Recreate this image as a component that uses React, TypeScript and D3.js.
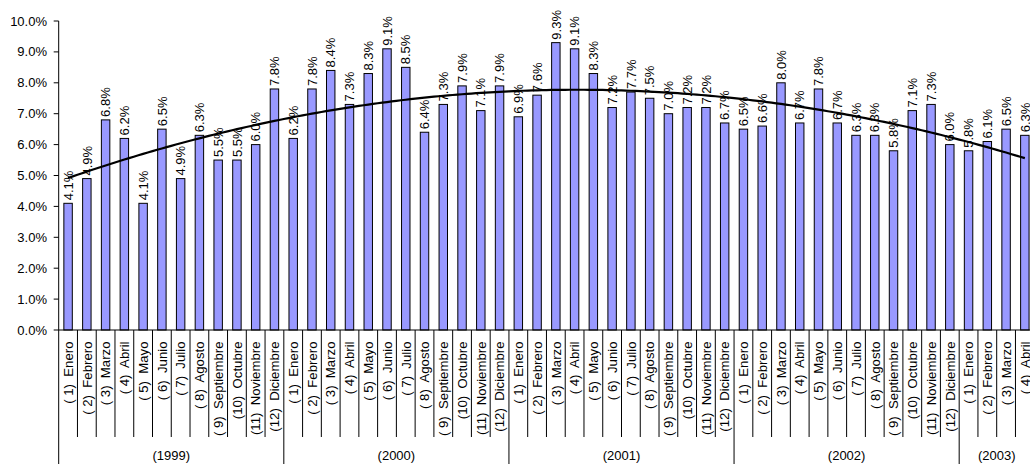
import React from "react";
import * as d3 from "d3";

const months = ["Enero", "Febrero", "Marzo", "Abril", "Mayo", "Junio", "Julio", "Agosto", "Septiembre", "Octubre", "Noviembre", "Diciembre"];
const years = ["1999", "2000", "2001", "2002", "2003"];
const v1999 = [4.1, 4.9, 6.8, 6.2, 4.1, 6.5, 4.9, 6.3, 5.5, 5.5, 6.0, 7.8];
const v2000 = [6.2, 7.8, 8.4, 7.3, 8.3, 9.1, 8.5, 6.4, 7.3, 7.9, 7.1, 7.9];
const v2001 = [6.9, 7.6, 9.3, 9.1, 8.3, 7.2, 7.7, 7.5, 7.0, 7.2, 7.2, 6.7];
const v2002 = [6.5, 6.6, 8.0, 6.7, 7.8, 6.7, 6.3, 6.3, 5.8, 7.1, 7.3, 6.0];
const v2003 = [5.8, 6.1, 6.5, 6.3];
const yTicks = [0, 1, 2, 3, 4, 5, 6, 7, 8, 9, 10];

const seriesByYear = [v1999, v2000, v2001, v2002, v2003];

type Row = { key: string; year: number; month: number; value: number };
const rows: Row[] = [];
seriesByYear.forEach((arr, yi) =>
  arr.forEach((v, mi) => rows.push({ key: `${yi}-${mi}`, year: yi, month: mi, value: v }))
);

function polyFit(xs: number[], ys: number[], order: number) {
  const n = order + 1;
  const A: number[][] = Array.from({ length: n }, () => new Array(n + 1).fill(0));
  for (let k = 0; k < xs.length; k++) {
    for (let i = 0; i < n; i++) {
      for (let j = 0; j < n; j++) A[i][j] += Math.pow(xs[k], i + j);
      A[i][n] += ys[k] * Math.pow(xs[k], i);
    }
  }
  for (let i = 0; i < n; i++) {
    let p = i;
    for (let r = i + 1; r < n; r++) if (Math.abs(A[r][i]) > Math.abs(A[p][i])) p = r;
    [A[i], A[p]] = [A[p], A[i]];
    for (let r = 0; r < n; r++) {
      if (r === i) continue;
      const f = A[r][i] / A[i][i];
      for (let c = i; c <= n; c++) A[r][c] -= f * A[i][c];
    }
  }
  return A.map((row, i) => row[n] / row[i]);
}

export default function App() {
  const W = 1030, H = 464;
  const left = 58.7;
  const step = 18.76;
  const y0 = 330, y10 = 21;
  const font = "'Liberation Sans', Arial, Helvetica, sans-serif";

  const x = d3.scaleBand<string>()
    .domain(rows.map((r) => r.key))
    .range([left, left + rows.length * step])
    .paddingInner(0)
    .paddingOuter(0);
  const y = d3.scaleLinear().domain([0, 10]).range([y0, y10]);
  const bw = x.bandwidth() * 0.45;
  const cx = (k: string) => (x(k) as number) + x.bandwidth() / 2;

  const xs = rows.map((_, i) => i + 1);
  const coef = polyFit(xs, rows.map((r) => r.value), 2);
  const trendPts: [number, number][] = [];
  for (let t = 1; t <= rows.length; t += 0.25) {
    const v = coef.reduce((s, c, i) => s + c * Math.pow(t, i), 0);
    trendPts.push([left + x.bandwidth() / 2 + (t - 1) * x.step(), y(v)]);
  }
  const line = d3.line().curve(d3.curveLinear);

  const catTickBottom = 437;

  return (
    <svg width={W} height={H} style={{ position: "absolute", left: 0, top: 0, background: "#fff" }} fontFamily={font}>
      <line x1={left} x2={left} y1={y10} y2={y0} stroke="#000" strokeWidth={1} />
      {yTicks.map((t) => (
        <g key={t}>
          <line x1={left - 5} x2={left} y1={y(t)} y2={y(t)} stroke="#000" />
          <text x={47} y={y(t)} dy="0.35em" textAnchor="end" fontSize={13} fill="#000">
            {t.toFixed(1)}%
          </text>
        </g>
      ))}
      {rows.map((r) => (
        <rect key={r.key} x={cx(r.key) - bw / 2} y={y(r.value)} width={bw} height={y0 - y(r.value)}
          fill="#9999ff" stroke="#000" strokeWidth={1} />
      ))}
      {rows.map((r) => (
        <text key={"l" + r.key} transform={`translate(${cx(r.key)},${y(r.value) - 3}) rotate(-90)`}
          dy="0.36em" fontSize={13} fill="#000">
          {r.value.toFixed(1)}%
        </text>
      ))}
      <path d={line(trendPts) || ""} fill="none" stroke="#000" strokeWidth={2.2} />
      <line x1={left} x2={W + 20} y1={y0} y2={y0} stroke="#000" />
      {rows.map((r) => (
        <line key={"t" + r.key} x1={x(r.key) as number} x2={x(r.key) as number} y1={y0}
          y2={r.month === 0 ? H : catTickBottom} stroke="#000" />
      ))}
      {rows.map((r) => {
        const n = r.month + 1;
        const lbl = `(${n < 10 ? " " + n : n})  ${months[r.month]}`;
        return (
          <text key={"c" + r.key} transform={`translate(${cx(r.key)},341.5) rotate(-90)`}
            textAnchor="end" dy="0.36em" fontSize={13.2} fill="#000" style={{ whiteSpace: "pre" }}>
            {lbl}
          </text>
        );
      })}
      {years.map((yr, yi) => {
        const count = seriesByYear[yi].length;
        const start = left + yi * 12 * step;
        const mid = start + (count * step) / 2;
        return (
          <text key={yr} x={mid} y={460} textAnchor="middle" fontSize={13} fill="#000">
            ({yr})
          </text>
        );
      })}
    </svg>
  );
}
